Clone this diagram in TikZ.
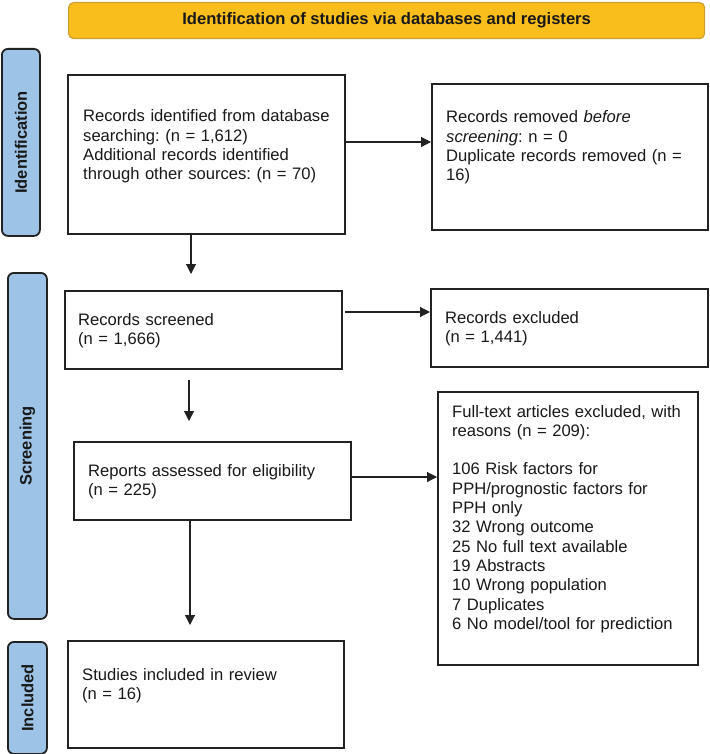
\documentclass[tikz,border=0pt]{standalone}
\usepackage{fontspec}
\setmainfont{Liberation Sans}
\usetikzlibrary{arrows.meta}
\definecolor{bannerfill}{HTML}{F9BE1C}
\definecolor{bannerline}{HTML}{CDA035}
\definecolor{labelfill}{HTML}{9DC3E6}
\definecolor{edge}{HTML}{222222}
\frenchspacing
\tikzset{
  box/.style={draw=edge, line width=1.9pt, fill=white, inner sep=0pt, anchor=north west},
  txt/.style={inner sep=0pt, anchor=base west, align=left, text width=270pt,
    font=\fontsize{16.6}{19.3}\selectfont\frenchspacing, text=black!90},
  lab/.style={draw=edge, line width=1.8pt, fill=labelfill, rounded corners=6pt,
    inner sep=0pt, anchor=north west, font=\fontsize{16.5}{19}\selectfont\bfseries, text=black!90},
  banner/.style={draw=bannerline, line width=1.2pt, fill=bannerfill, rounded corners=5pt,
    inner sep=0pt, anchor=north west, font=\fontsize{16.6}{19}\selectfont\bfseries, text=black!90},
  arr/.style={draw=edge, line width=1.1pt, -{Triangle[length=10pt,width=10pt]}}
}
\begin{document}
\begin{tikzpicture}[x=1pt,y=-1pt]
\useasboundingbox (0,0) rectangle (709,754);
% banner
\node[banner, minimum width=636pt, minimum height=36pt] (ban) at (68,2) {\raisebox{-1.5pt}{Identification of studies via databases and registers}};
% side labels
\node[lab, minimum width=38pt, minimum height=187pt] (lid) at (1,48) {\rotatebox{90}{Identification}};
\node[lab, minimum width=39pt, minimum height=346pt] (lsc) at (7,272) {\rotatebox{90}{Screening}};
\node[lab, minimum width=39pt, minimum height=112pt] (lin) at (7,641) {\rotatebox{90}{Included}};
% boxes
\node[box, minimum width=277pt, minimum height=159pt] (b1) at (67,74) {};
\node[txt] (t1) at (83,122) {Records identified from database\\searching: (n = 1,612)\\Additional records identified\\through other sources: (n = 70)};
\node[box, minimum width=276pt, minimum height=146pt] (rem) at (431,83) {};
\node[txt] (trem) at (446,123) {Records removed \textit{before}\\\textit{screening}: n = 0\\Duplicate records removed (n =\\16)};
\node[box, minimum width=277pt, minimum height=78pt] (scr) at (64,290) {};
\node[txt] (tscr) at (78,325) {Records screened\\(n = 1,666)};
\node[box, minimum width=277pt, minimum height=78pt] (exc) at (430,288) {};
\node[txt] (texc) at (445,323) {Records excluded\\(n = 1,441)};
\node[box, minimum width=277pt, minimum height=78pt] (rep) at (73,441) {};
\node[txt] (trep) at (88,476) {Reports assessed for eligibility\\(n = 225)};
\node[box, minimum width=260pt, minimum height=273pt] (ft) at (437,391) {};
\node[txt] (tft) at (452,417) {Full-text articles excluded, with\\reasons (n = 209):\\[19.3pt]106 Risk factors for\\PPH/prognostic factors for\\PPH only\\32 Wrong outcome\\25 No full text available\\19 Abstracts\\10 Wrong population\\7 Duplicates\\6 No model/tool for prediction};
\node[box, minimum width=276pt, minimum height=107pt] (inc) at (67,640) {};
\node[txt] (tinc) at (82,680) {Studies included in review\\(n = 16)};
% arrow ends
\coordinate (e1) at (191,274);
\coordinate (s2) at (345,312);
\coordinate (s3) at (189,380);
\coordinate (e3) at (189,421);
\coordinate (e5) at (190,625);
% arrows
\draw[arr] (b1.south -| e1) -- (e1);
\draw[arr] (b1.east |- 0,142) -- (rem.west |- 0,142);
\draw[arr] (s2) -- (exc.west |- s2);
\draw[arr] (s3) -- (e3);
\draw[arr] (rep.east |- 0,477) -- (ft.west |- 0,477);
\draw[arr] (rep.south -| e5) -- (e5);
\end{tikzpicture}
\end{document}
